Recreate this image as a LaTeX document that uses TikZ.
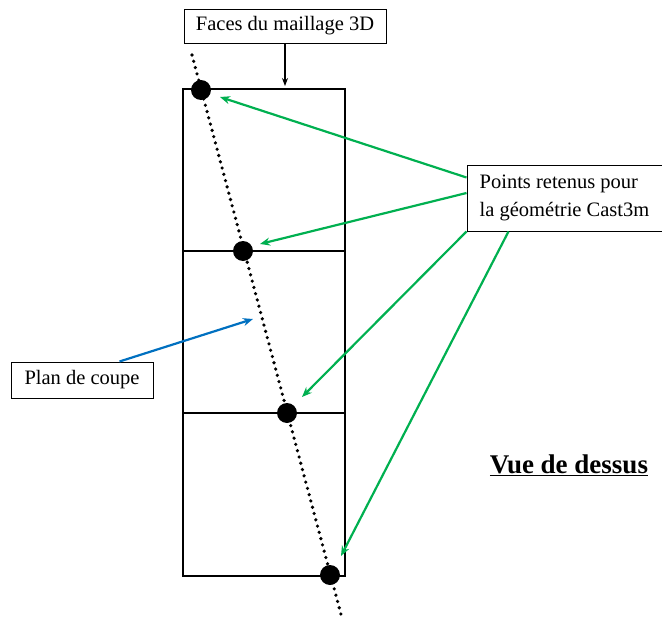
\documentclass[tikz,border=0pt]{standalone}
\usepackage{fontspec}
\setmainfont{Liberation Serif}
\usetikzlibrary{arrows.meta}
\definecolor{mygreen}{RGB}{0,176,80}
\definecolor{myblue}{RGB}{0,112,192}
\begin{document}
\begin{tikzpicture}[x=1pt,y=-1pt,
  lbl/.style={draw,line width=1pt,fill=white,font=\fontsize{20.5}{28}\selectfont,inner sep=0pt,align=left},
  garrow/.style={draw=mygreen,line width=2.2pt,-{Stealth[length=10pt,width=8pt]}},
  barrow/.style={draw=myblue,line width=2.2pt,-{Stealth[length=10pt,width=8pt]}},
  karrow/.style={draw=black,line width=1.1pt,-{Stealth[length=8pt,width=6pt]}},
  pt/.style={circle,fill=black,minimum size=20pt,inner sep=0pt}]
\useasboundingbox (0,0) rectangle (662,621);
% grid of faces
\draw[line width=1.8pt] (183,89) rectangle (345,576);
\draw[line width=1.8pt] (183,251) -- (345,251);
\draw[line width=1.8pt] (183,413) -- (345,413);
% section plane
\coordinate (ctop) at (192,55);
\coordinate (cbot) at (342,618);
\draw[line width=3.6pt,line cap=round,dash pattern=on 0pt off 6.5pt] (ctop) -- (cbot);
% points
\node[pt] (p1) at (201,90) {};
\node[pt] (p2) at (243,251) {};
\node[pt] (p3) at (287,413) {};
\node[pt] (p4) at (330,575) {};
% labels
\node[lbl,minimum width=202pt,minimum height=34pt] (faces) at (285,26) {Faces du maillage 3D};
\node[lbl,minimum width=195pt,minimum height=66pt] (pts) at (564.5,198) {Points retenus pour\\la géométrie Cast3m};
\node[lbl,minimum width=142pt,minimum height=36pt] (plan) at (82,380) {Plan de coupe};
\node[font=\fontsize{27}{30}\selectfont\bfseries] (vue) at (569,465) {\underline{Vue de dessus}};
% connectors
\coordinate (t1) at (220,97);
\coordinate (t2) at (260,244);
\coordinate (t3) at (302,397);
\coordinate (t4) at (341,556);
\coordinate (tb) at (253,319);
\draw[karrow] (faces.south) -- (285,86);
\draw[garrow] ([yshift=-13pt]pts.north west) -- (t1);
\draw[garrow] ([yshift=5pt]pts.west) -- (t2);
\draw[garrow] (pts.south west) -- (t3);
\draw[garrow] ([xshift=42pt]pts.south west) -- (t4);
\draw[barrow] ([xshift=109pt]plan.north west) -- (tb);
\end{tikzpicture}
\end{document}
